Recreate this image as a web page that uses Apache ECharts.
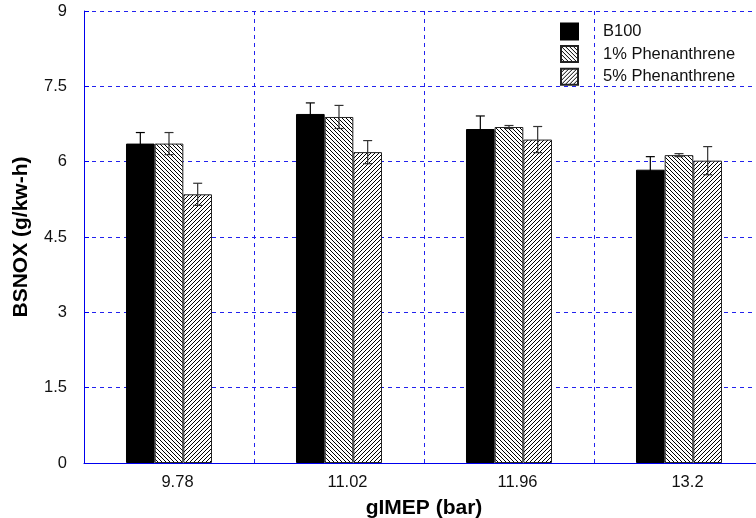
<!DOCTYPE html>
<html>
<head>
<meta charset="utf-8">
<script src="https://cdn.jsdelivr.net/npm/echarts@6/dist/echarts.min.js"></script>
<style>html,body{margin:0;padding:0;background:#fff;overflow:hidden}#c{width:756px;height:518px}</style>
</head>
<body>
<div id="c"></div>
<script>
const categories = ['9.78', '11.02', '11.96', '13.2'];
const seriesNames = ['B100', '1% Phenanthrene', '5% Phenanthrene'];
const b100 = [6.36, 6.95, 6.65, 5.84];
const b100Err = [0.22, 0.22, 0.26, 0.26];
const phen1 = [6.36, 6.89, 6.69, 6.13];
const phen1Err = [0.22, 0.23, 0.03, 0.03];
const phen5 = [5.35, 6.19, 6.44, 6.02];
const phen5Err = [0.22, 0.23, 0.26, 0.28];
const yTicks = [0, 1.5, 3, 4.5, 6, 7.5, 9];

function hatch(back) {
  const c = document.createElement('canvas');
  c.width = 4; c.height = 4;
  const g = c.getContext('2d');
  g.fillStyle = '#fff'; g.fillRect(0, 0, 4, 4);
  g.fillStyle = '#000';
  for (let i = 0; i < 4; i++) {
    const x = back ? i : 3 - i;
    g.fillRect(x, i, 1, 1);
  }
  return { image: c, repeat: 'repeat' };
}

const FONT = 'Liberation Sans, Arial, sans-serif';
const values = [b100, phen1, phen5];
const errs = [b100Err, phen1Err, phen5Err];
const fills = ['#000', hatch(true), hatch(false)];
const GAP_FRAC = 0.494;

const series = [];
values.forEach((v, k) => {
  series.push({
    name: seriesNames[k], type: 'bar', data: v,
    barGap: '0%', barCategoryGap: (GAP_FRAC * 100) + '%',
    itemStyle: { color: fills[k], borderColor: k === 0 ? '#000' : '#222', borderWidth: 1 },
    z: 2
  });
});
values.forEach((v, k) => {
  series.push({
    type: 'custom', silent: true, z: 5,
    data: v.map((val, i) => [i, val, errs[k][i]]),
    renderItem: function (params, api) {
      const i = api.value(0), val = api.value(1), e = api.value(2);
      const band = api.size([1, 0])[0];
      const bw = band * (1 - GAP_FRAC) / 3;
      const cx = api.coord([i, val])[0] + (k - 1) * bw;
      const yt = api.coord([i, val + e])[1];
      const yb = api.coord([i, val - e])[1];
      const col = k === 0 ? '#000' : '#333';
      const st = { stroke: col, lineWidth: 1.2 };
      return { type: 'group', children: [
        { type: 'line', shape: { x1: cx, y1: yt, x2: cx, y2: yb }, style: st },
        { type: 'line', shape: { x1: cx - 4.5, y1: yt, x2: cx + 4.5, y2: yt }, style: st },
        { type: 'line', shape: { x1: cx - 4.5, y1: yb, x2: cx + 4.5, y2: yb }, style: st }
      ]};
    }
  });
});

const chart = echarts.init(document.getElementById('c'), null, { renderer: 'canvas' });
chart.setOption({
  animation: false,
  backgroundColor: '#fff',
  textStyle: { fontFamily: FONT },
  grid: { left: 84, top: 11, height: 452, width: 680, containLabel: false, outerBoundsMode: 'none' },
  legend: {
    data: seriesNames, orient: 'vertical', left: 560, top: 22.5, padding: 0,
    itemWidth: 17, itemHeight: 16, itemGap: 4.6,
    textStyle: { fontSize: 16.5, lineHeight: 16, color: '#111', padding: [0, 0, 0, 20], fontFamily: FONT },
    icon: 'rect'
  },
  xAxis: {
    type: 'category', data: categories,
    name: 'gIMEP (bar)', nameLocation: 'middle', nameGap: 35,
    nameTextStyle: { fontSize: 21, fontWeight: 'bold', color: '#000', fontFamily: FONT },
    axisLine: { lineStyle: { color: '#0000ee', width: 1 } },
    axisTick: { show: false },
    axisLabel: { fontSize: 16.5, color: '#111', margin: 11, padding: [0, 0, 0, 17] },
    splitLine: { show: true, lineStyle: { color: '#2222ee', type: [4, 4], width: 1 } }
  },
  yAxis: {
    type: 'value', min: 0, max: 9, interval: 1.5,
    name: 'BSNOX (g/kw-h)', nameLocation: 'middle', nameGap: 52,
    nameTextStyle: { fontSize: 21, fontWeight: 'bold', color: '#000', fontFamily: FONT },
    axisLine: { show: true, lineStyle: { color: '#0000ee', width: 1 } },
    axisTick: { show: true, inside: true, length: 5, lineStyle: { color: '#0000ee' } },
    axisLabel: { fontSize: 16.5, color: '#111', margin: 17, formatter: v => (yTicks.includes(v) ? String(v) : '') },
    splitLine: { show: true, lineStyle: { color: '#2222ee', type: [4, 4], width: 1 } }
  },
  series: series
});
</script>
</body>
</html>
